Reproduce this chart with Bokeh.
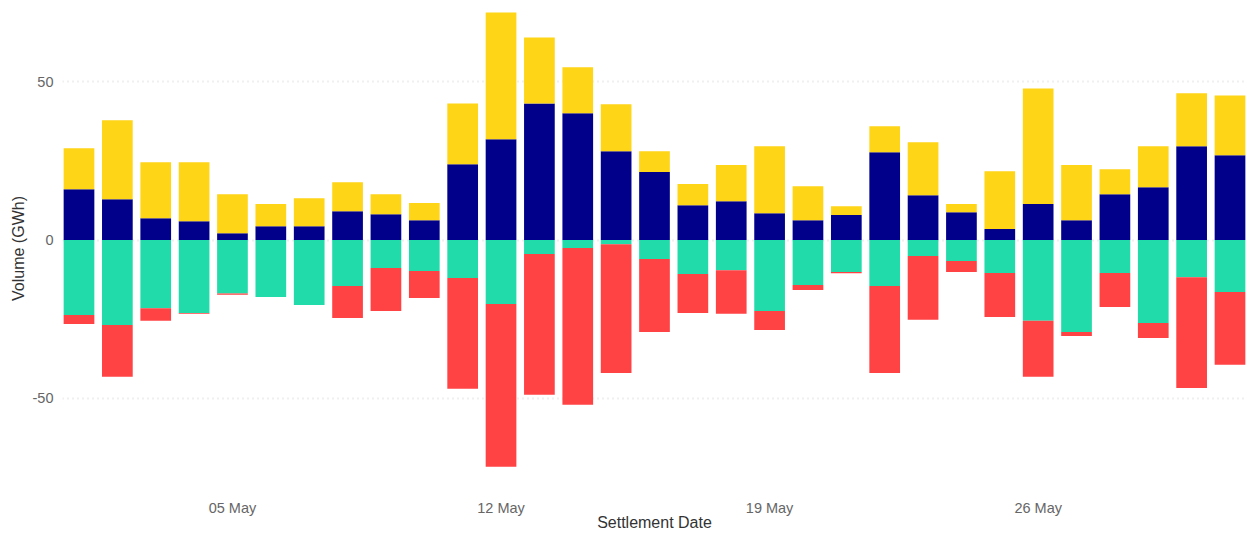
import pandas as pd
from bokeh.plotting import figure
from bokeh.models import Range1d, FixedTicker, DatetimeTickFormatter, ColumnDataSource, PrintfTickFormatter
from bokeh.embed import file_html
from bokeh.resources import INLINE

dates = list(pd.date_range("2024-05-01", "2024-05-31", freq="D"))
tick_dates = ["2024-05-05", "2024-05-12", "2024-05-19", "2024-05-26"]
y_ticks = [-50, 0, 50]

navy = [16.1, 12.9, 6.9, 6.0, 2.2, 4.4, 4.4, 9.1, 8.2, 6.3, 24.0, 31.9, 43.2, 40.1, 28.1, 21.5,
        11.0, 12.3, 8.5, 6.3, 7.9, 27.8, 14.2, 8.8, 3.5, 11.4, 6.3, 14.5, 16.7, 29.7, 26.8]
gold = [12.9, 25.0, 17.7, 18.6, 12.3, 7.0, 8.8, 9.2, 6.3, 5.4, 19.2, 40.0, 20.8, 14.5, 14.8, 6.6,
        6.7, 11.4, 21.2, 10.7, 2.8, 8.2, 16.7, 2.6, 18.3, 36.5, 17.4, 7.9, 13.0, 16.7, 18.9]
teal = [-23.7, -26.8, -21.5, -23.0, -16.9, -18.0, -20.5, -14.5, -8.8, -9.8, -12.0, -20.2, -4.4, -2.5,
        -1.3, -6.0, -10.7, -9.5, -22.4, -14.2, -10.1, -14.5, -5.0, -6.6, -10.4, -25.5, -29.0, -10.4,
        -26.2, -11.7, -16.4]
red = [-2.8, -16.4, -4.0, -0.3, -0.4, 0.0, 0.0, -10.1, -13.6, -8.5, -35.0, -51.4, -44.5, -49.5,
       -40.7, -23.0, -12.3, -13.8, -6.0, -1.6, -0.4, -27.5, -20.2, -3.5, -13.9, -17.7, -1.3, -10.7,
       -4.7, -35.0, -23.0]

src = ColumnDataSource(dict(date=dates, navy=navy, gold=gold, teal=teal, red=red))

day = pd.Timedelta(days=1)
p = figure(width=1248, height=533, x_axis_type="datetime",
           x_range=Range1d(dates[0] - 0.43 * day, dates[-1] + 0.43 * day),
           y_range=Range1d(-78.5, 73.2),
           output_backend="svg", toolbar_location=None,
           min_border_left=62, min_border_right=2, min_border_top=8, min_border_bottom=38)

w = 0.8 * 86400000
p.vbar_stack(["navy", "gold"], x="date", width=w, source=src,
             color=["#00008B", "#FFD517"], line_color=None)
p.vbar_stack(["teal", "red"], x="date", width=w, source=src,
             color=["#22DBAA", "#FF4244"], line_color=None)

p.outline_line_color = None
p.xgrid.grid_line_color = None
p.ygrid.grid_line_color = "#e0e0e0"
p.ygrid.grid_line_dash = "1 4"
p.ygrid.grid_line_width = 2
p.ygrid.ticker = FixedTicker(ticks=y_ticks)

p.yaxis.ticker = FixedTicker(ticks=y_ticks)
p.yaxis.formatter = PrintfTickFormatter(format="%d")
p.xaxis.ticker = FixedTicker(ticks=[pd.Timestamp(d).value // 10**6 for d in tick_dates])
p.xaxis.formatter = DatetimeTickFormatter(days="%d %b", months="%d %b")

for ax in (p.xaxis, p.yaxis):
    ax.axis_line_color = None
    ax.major_tick_line_color = None
    ax.minor_tick_line_color = None
    ax.major_tick_out = 0
    ax.major_tick_in = 0
    ax.major_label_text_font = "Liberation Sans"
    ax.major_label_text_font_size = "14.5px"
    ax.major_label_text_color = "#666666"
    ax.axis_label_text_font = "Liberation Sans"
    ax.axis_label_text_font_size = "16px"
    ax.axis_label_text_font_style = "normal"
    ax.axis_label_text_color = "#333333"

p.xaxis.axis_label = "Settlement Date"
p.yaxis.axis_label = "Volume (GWh)"
p.xaxis.major_label_standoff = 11
p.xaxis.axis_label_standoff = -5
p.yaxis.major_label_standoff = 9
p.yaxis.axis_label_standoff = 3

open("out.html", "w").write(file_html(p, INLINE))
